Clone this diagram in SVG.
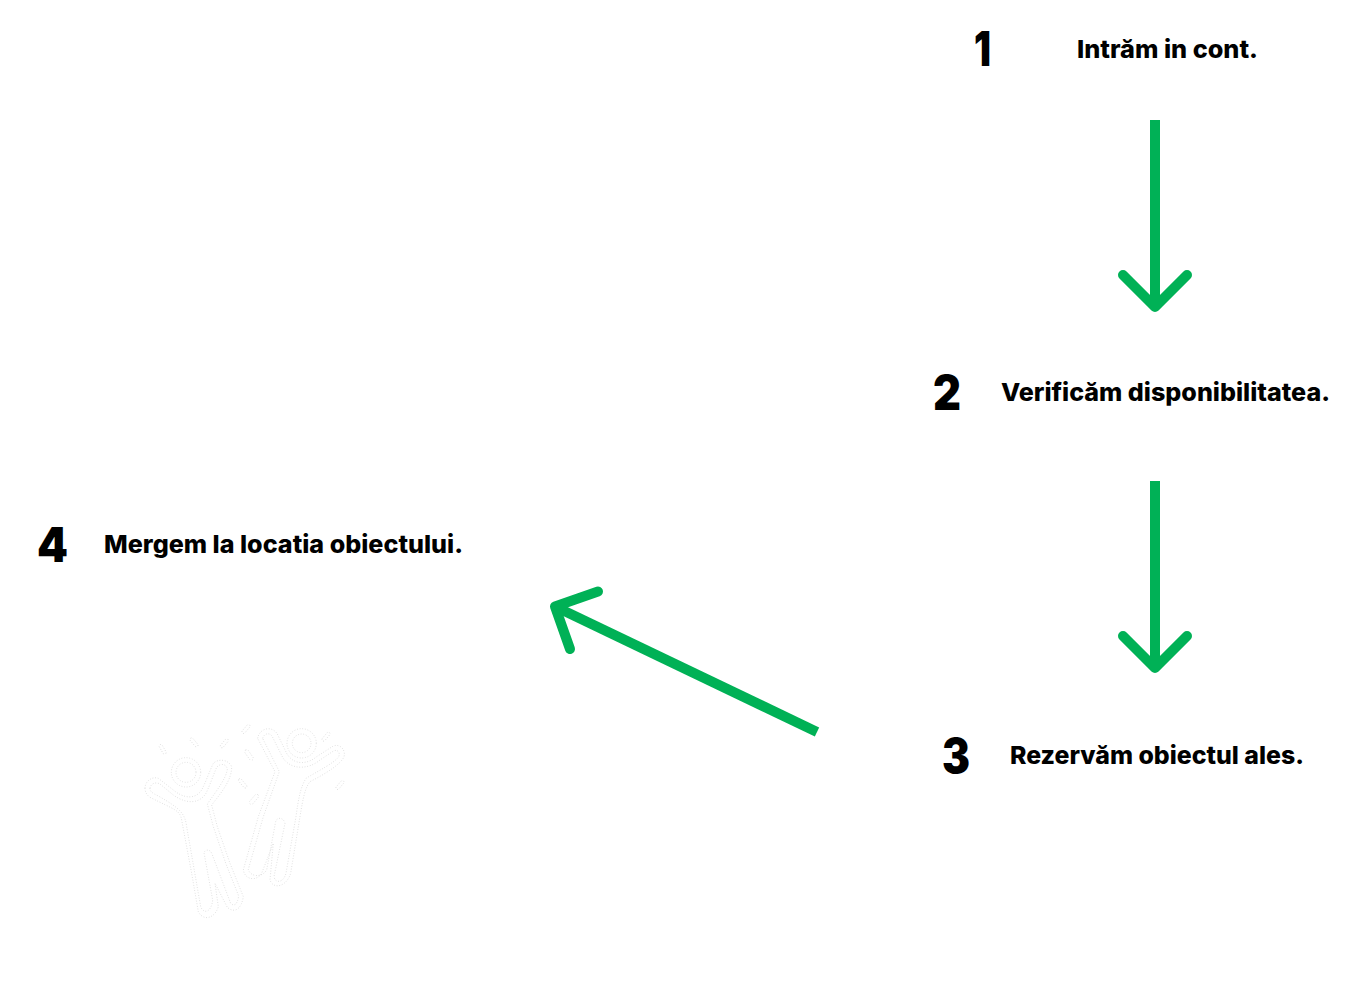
<svg xmlns="http://www.w3.org/2000/svg" width="1352" height="1000" viewBox="0 0 1352 1000">
<defs><style>
.l{font-family:Inter,"Noto Sans","Liberation Sans",sans-serif;font-weight:800;font-size:24.5px;fill:#000}
.n{font-family:Inter,"Noto Sans","Liberation Sans",sans-serif;font-weight:900;font-size:48px;fill:#000}
.a{fill:none;stroke:#00b156;stroke-width:10}
.h{stroke-linecap:round;stroke-linejoin:round}
.d{fill:none;stroke:#d6d6d6;stroke-width:2.6;stroke-dasharray:2.5 5.5}
</style></defs>
<rect width="1352" height="1000" fill="#fff"/>
<g id="connectors">
<path class="a" d="M1155 120V305"/><path class="a h" d="M1123 275L1155 307L1187 275"/>
<path class="a" d="M1155 481V666"/><path class="a h" d="M1123 636L1155 668L1187 636"/>
<path class="a" d="M817 732L556 607"/><path class="a h" d="M598 591.5L555 606.5L570 649"/>
</g>
<g id="node-1"><text class="n" x="974" y="66" textLength="17" lengthAdjust="spacingAndGlyphs">1</text><text class="l" x="1077" y="58" textLength="181" lengthAdjust="spacingAndGlyphs">Intrăm in cont.</text></g>
<g id="node-2"><text class="n" x="933" y="410" textLength="28" lengthAdjust="spacingAndGlyphs">2</text><text class="l" x="1001" y="401" textLength="329" lengthAdjust="spacingAndGlyphs">Verificăm disponibilitatea.</text></g>
<g id="node-3"><text class="n" x="942" y="773" textLength="28" lengthAdjust="spacingAndGlyphs">3</text><text class="l" x="1010" y="764" textLength="294" lengthAdjust="spacingAndGlyphs">Rezervăm obiectul ales.</text></g>
<g id="node-4"><text class="n" x="37" y="562" textLength="31" lengthAdjust="spacingAndGlyphs">4</text><text class="l" x="104" y="553" textLength="359" lengthAdjust="spacingAndGlyphs">Mergem la locatia obiectului.</text></g>
<g id="figures" transform="translate(130 710) scale(.3333)">
<circle class="d" cx="168" cy="187" r="30"/><circle class="d" cx="168" cy="187" r="44"/>
<path class="d" d="M45 235C45 215 65 198 85 205L130 240C160 265 195 270 215 240C228 215 240 180 250 160C265 145 295 148 305 170C305 205 285 235 245 285L262 350L300 460L340 560C335 595 315 612 292 592L255 520L265 590C255 625 220 635 205 605L185 490L155 330C150 300 135 300 60 262C50 255 45 245 45 235Z"/>
<path class="d" d="M60 235C62 220 78 215 90 222L130 255C165 280 205 285 228 250C240 225 250 195 260 172C272 158 290 162 292 178C288 205 265 235 232 282L250 350L288 462L326 558C322 585 312 590 302 580L246 432C240 416 226 418 222 428L248 570C245 605 222 615 212 590L170 350C165 310 150 295 85 258C68 250 60 245 60 235Z"/>
<circle class="d" cx="515" cy="100" r="28"/><circle class="d" cx="515" cy="100" r="44"/>
<path class="d" d="M383 85C388 55 425 45 442 72L470 130C490 165 530 165 560 140L610 108C630 100 648 120 642 140C635 160 590 190 540 215C525 235 520 260 510 320L482 490C470 530 430 540 420 510L430 400L395 490C380 515 345 510 340 480L385 320L435 185Z"/>
<path class="d" d="M398 85C402 70 420 65 428 82L458 142C480 180 535 180 570 150L612 122C625 118 632 130 625 142C610 160 570 180 528 205C510 235 505 270 498 320L468 490C460 520 435 520 432 500L465 340C460 320 440 322 437 335L410 480C395 505 360 500 355 478L400 320L448 185Z"/>
<rect x="-5" y="-16" width="10" height="32" rx="5" class="d" transform="translate(98 118) rotate(-30)"/>
<rect x="-5" y="-16" width="10" height="32" rx="5" class="d" transform="translate(192 97) rotate(-40)"/>
<rect x="-5" y="-16" width="10" height="32" rx="5" class="d" transform="translate(283 100) rotate(40)"/>
<rect x="-6" y="-18" width="12" height="36" rx="6" class="d" transform="translate(357 135) rotate(-35)"/>
<rect x="-5" y="-17" width="10" height="34" rx="5" class="d" transform="translate(338 220) rotate(-40)"/>
<rect x="-6" y="-18" width="12" height="36" rx="6" class="d" transform="translate(372 268) rotate(40)"/>
<rect x="-5" y="-16" width="10" height="32" rx="5" class="d" transform="translate(348 57) rotate(40)"/>
<rect x="-5" y="-16" width="10" height="32" rx="5" class="d" transform="translate(588 80) rotate(40)"/>
<rect x="-5" y="-16" width="10" height="32" rx="5" class="d" transform="translate(630 225) rotate(40)"/>
</g>
</svg>
